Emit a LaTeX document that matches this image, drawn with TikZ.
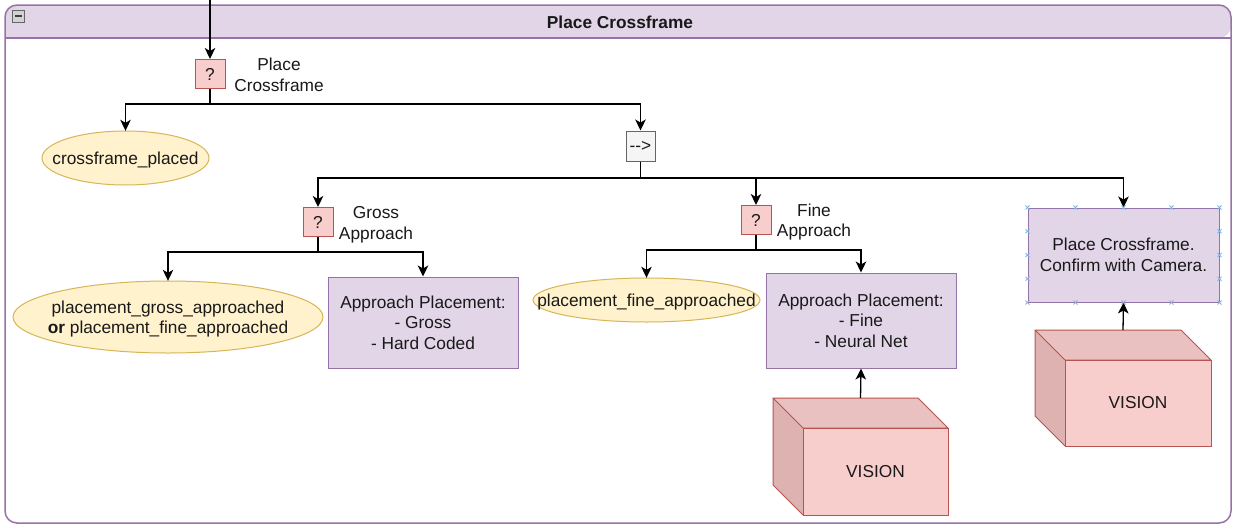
\documentclass[tikz,border=0pt]{standalone}
\usepackage{fontspec}
\setmainfont{Liberation Sans}
\usetikzlibrary{arrows.meta,calc}
\definecolor{frameStroke}{HTML}{9673A6}
\definecolor{frameFill}{HTML}{E1D5E7}
\definecolor{qFill}{HTML}{F8CECC}
\definecolor{qStroke}{HTML}{B85450}
\definecolor{condFill}{HTML}{FFF2CC}
\definecolor{condStroke}{HTML}{D6B656}
\definecolor{seqFill}{HTML}{F5F5F5}
\definecolor{seqStroke}{HTML}{666666}
\definecolor{cubeTop}{HTML}{E8C1C0}
\definecolor{cubeSide}{HTML}{DDB2B1}
\definecolor{handle}{HTML}{7FB8E8}
\tikzset{
  x=1pt, y=-1pt,
  every node/.style={font=\fontsize{17.3}{20.5}\selectfont, text=black!90},
  fallback/.style={draw=qStroke, fill=qFill, line width=1pt, minimum width=30pt, minimum height=29pt, inner sep=0pt},
  sequence/.style={draw=seqStroke, fill=seqFill, line width=1pt, minimum width=29pt, minimum height=30pt, inner sep=0pt},
  condition/.style={inner sep=0pt},
  condtext/.style={inner sep=0pt, align=center},
  oval/.style={draw=condStroke, fill=condFill, line width=1pt},
  action/.style={draw=frameStroke, fill=frameFill, line width=1pt, inner sep=0pt, align=center},
  lbl/.style={align=center, inner sep=0pt},
  wire/.style={line width=1.3pt, draw=black},
  arrow/.style={wire, -{Stealth[length=11pt,width=10.5pt,inset=3pt]}},
  cubeline/.style={draw=qStroke, line width=1pt, line join=round},
  grip/.style={draw=handle, line width=0.8pt},
}
\begin{document}
\begin{tikzpicture}
\useasboundingbox (0,0) rectangle (1233,525);

% container with header band
\fill[white, rounded corners=12] (5,5) rectangle (1231,523);
\fill[frameFill, rounded corners=12] (5,38) -- (5,5) -- (1231,5) -- (1231,38) [sharp corners] -- cycle;
\draw[frameStroke, line width=1.5pt] (5,38) -- (1231,38);
\draw[frameStroke, line width=1.5pt, rounded corners=12] (5,5) rectangle (1231,523);
\node[font=\bfseries\fontsize{17.3}{20.5}\selectfont] (title) at (620,22) {Place Crossframe};
% collapse button
\node[draw=gray!80!black, fill=gray!35, minimum size=12pt, inner sep=0pt, line width=0.6pt] (collapse) at (18,16) {};
\draw[line width=1.8pt, black!75] ([xshift=-3.5pt]collapse.center) -- ([xshift=3.5pt]collapse.center);

% root fallback
\coordinate (entry) at (210,0);
\node[fallback] (q0) at (210,74) {?};
\node[lbl] (q0l) at (279,75) {Place\\Crossframe};
\draw[arrow] (entry) -- (q0.north);

\draw[oval] (125.5,158) ellipse [x radius=83.5, y radius=27];
\node[condition, minimum width=167pt, minimum height=54pt] (placed) at (125.5,158) {};
\node[condtext] (placedt) at (125.5,160) {crossframe\_placed};
\node[sequence] (seq) at (640.5,146) {-{}->};
\draw[arrow] (q0.south) |- (125.5,104) -- (placed.north);
\draw[arrow] (q0.south) |- (640.5,104) -- (seq.north);

% sequence children
\node[fallback] (qg) at (318,222) {?};
\node[lbl] (qgl) at (376,225) {Gross\\Approach};
\node[fallback] (qf) at (756,220) {?};
\node[lbl] (qfl) at (814,222) {Fine\\Approach};
\node[action, minimum width=191pt, minimum height=94pt] (place) at (1123.5,255) {Place Crossframe.\\Confirm with Camera.};
\draw[arrow] (seq.south) |- (318,178) -- (qg.north);
\draw[arrow] (seq.south) |- (756,178) -- (qf.north);
\draw[arrow] (seq.south) |- (1123.5,178) -- (place.north);

% gross approach branch
\draw[oval] (168,317) ellipse [x radius=155, y radius=36];
\node[condition, minimum width=310pt, minimum height=72pt] (grossc) at (168,317) {};
\node[condtext] (grossct) at (168,319) {placement\_gross\_approached\\\textbf{or} placement\_fine\_approached};
\node[action, minimum width=190pt, minimum height=91pt] (grossa) at (423,322.5) {Approach Placement:\\- Gross\\- Hard Coded};
\draw[arrow] (qg.south) |- (168,252) -- (grossc.north);
\draw[arrow] (qg.south) |- (423,252) -- (grossa.north);

% fine approach branch
\draw[oval] (646.5,300) ellipse [x radius=113.5, y radius=22];
\node[condition, minimum width=227pt, minimum height=44pt] (finec) at (646.5,300) {};
\node[condtext] (finect) at (646.5,302) {placement\_fine\_approached};
\node[action, minimum width=190pt, minimum height=95pt] (finea) at (861,320.5) {Approach Placement:\\- Fine\\- Neural Net};
\draw[arrow] (qf.south) |- (646.5,250) -- (finec.north);
\draw[arrow] (qf.south) |- (861,250) -- (finea.north);

% vision sensors (cubes)
\newcommand{\visioncube}[5]{% name, x0, y0, x1, y1 ; depth 30
  \fill[cubeTop] (#2,#3) -- (#4-30,#3) -- (#4,#3+30) -- (#2+30,#3+30) -- cycle;
  \fill[cubeSide] (#2,#3) -- (#2+30,#3+30) -- (#2+30,#5) -- (#2,#5-30) -- cycle;
  \node[draw=qStroke, fill=qFill, line width=1pt, inner sep=0pt,
        minimum width=#4-#2-30, minimum height=#5-#3-30] (#1) at ({(#2+30+#4)/2},{(#3+30+#5)/2}) {VISION};
  \draw[cubeline] (#2,#3) -- (#4-30,#3) -- (#4,#3+30) -- (#2+30,#3+30) -- cycle;
  \draw[cubeline] (#2,#3) -- (#2,#5-30) -- (#2+30,#5);
  \coordinate (#1top) at ({(#2+#4)/2},#3);
}
\visioncube{visA}{773}{398}{948}{515}
\visioncube{visB}{1035}{330}{1211}{446}
\draw[arrow] (visAtop) -- (finea.south);
\draw[arrow] (visBtop) -- (place.south);

% selection handles round the action box
\newcommand{\grip}[1]{\draw[grip] ($#1+(-2,-2)$) -- ($#1+(2,2)$) ($#1+(-2,2)$) -- ($#1+(2,-2)$);}
\foreach \hx in {0,0.25,0.5,0.75,1}{
  \grip{(place.north west)!\hx!(place.north east)}
  \grip{(place.south west)!\hx!(place.south east)}
}
\foreach \hy in {0.25,0.5,0.75}{
  \grip{(place.north west)!\hy!(place.south west)}
  \grip{(place.north east)!\hy!(place.south east)}
}
\end{tikzpicture}
\end{document}
